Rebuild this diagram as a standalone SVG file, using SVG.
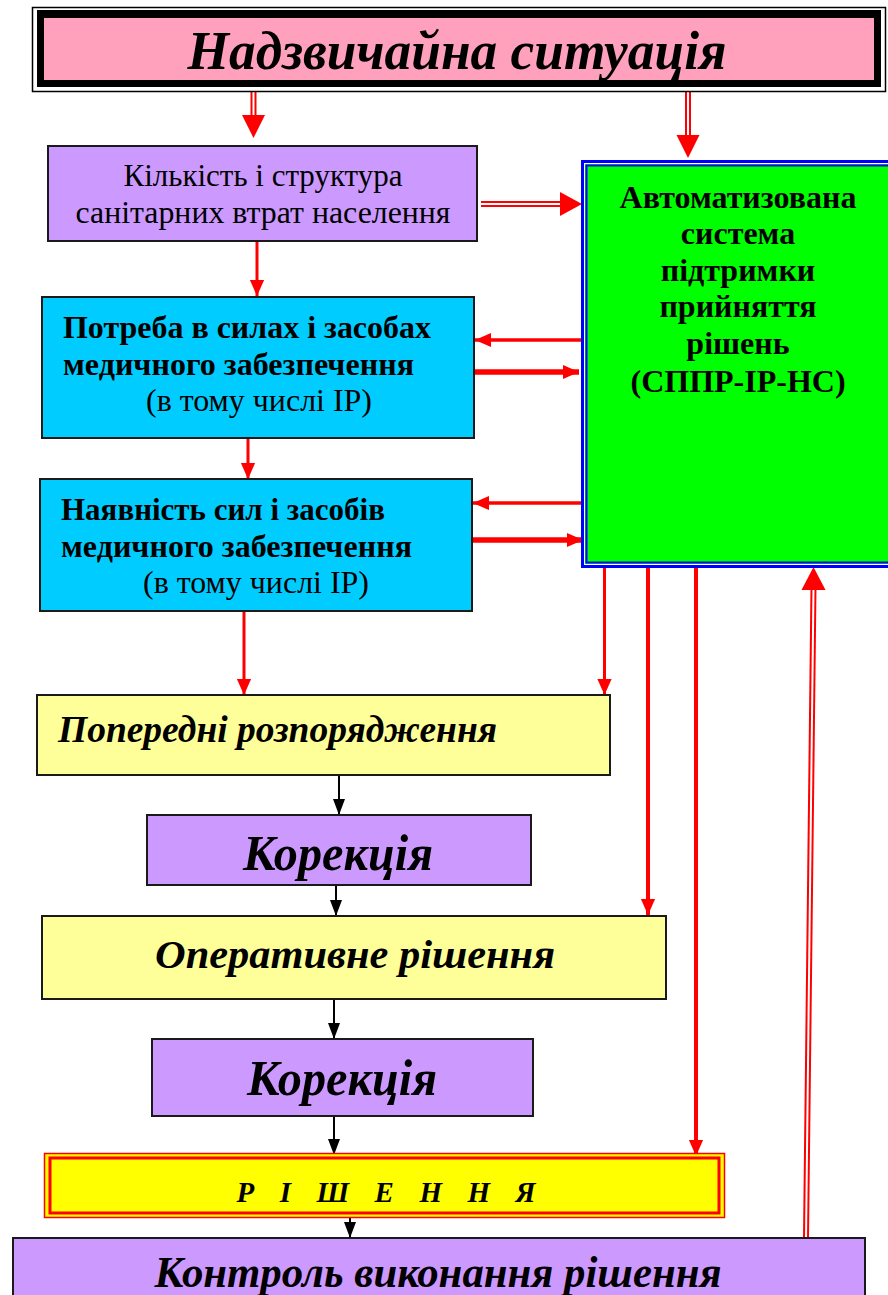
<svg xmlns="http://www.w3.org/2000/svg" width="888" height="1295" viewBox="0 0 888 1295">
<defs>
<style>
text{font-family:"Liberation Serif","Times New Roman",serif;fill:#000}
.box{stroke:#1a1a1a;stroke-width:2}
.lav{fill:#CC99FF}
.cyan{fill:#00CCFF}
.ylw{fill:#FFFF99}
.r{stroke:#FF0000;fill:none}
.k{stroke:#000;fill:none;stroke-width:2}
.bi{font-weight:bold;font-style:italic}
.b{font-weight:bold}
.head{fill:#FF0000}
</style>
<marker id="rh" markerUnits="userSpaceOnUse" markerWidth="16" markerHeight="18" refX="18" refY="8" orient="auto" viewBox="0 0 18 16">
<path d="M0,0 L18,8 L0,16 z" fill="#FF0000"/>
</marker>
<marker id="kh" markerUnits="userSpaceOnUse" markerWidth="16" markerHeight="12" refX="16" refY="6" orient="auto" viewBox="0 0 16 12">
<path d="M0,0 L16,6 L0,12 z" fill="#000"/>
</marker>
</defs>
<rect width="888" height="1295" fill="#fff"/>

<g id="connectors">
<line x1="253.5" y1="91" x2="253.5" y2="117" class="r" stroke-width="6"/>
<line x1="253.5" y1="91" x2="253.5" y2="116" stroke="#fff" stroke-width="2"/>
<polygon class="head" points="242,115 265,115 253.5,138"/>
<line x1="688" y1="91" x2="688" y2="137" class="r" stroke-width="6"/>
<line x1="688" y1="91" x2="688" y2="136" stroke="#fff" stroke-width="2"/>
<polygon class="head" points="676.5,135 699.5,135 688,158"/>
<line x1="481" y1="204" x2="562" y2="204" class="r" stroke-width="6"/>
<line x1="481" y1="204" x2="561" y2="204" stroke="#fff" stroke-width="2"/>
<polygon class="head" points="560,192 560,216 582,204"/>
<line x1="257" y1="241" x2="257" y2="296" class="r" stroke-width="3" marker-end="url(#rh)"/>
<line x1="581" y1="340" x2="475" y2="340" class="r" stroke-width="3.5" marker-end="url(#rh)"/>
<line x1="475" y1="372" x2="579" y2="372" class="r" stroke-width="5.5" marker-end="url(#rh)"/>
<line x1="248" y1="438" x2="248" y2="479" class="r" stroke-width="3" marker-end="url(#rh)"/>
<line x1="581" y1="503" x2="473" y2="503" class="r" stroke-width="3.5" marker-end="url(#rh)"/>
<line x1="473" y1="540" x2="583" y2="540" class="r" stroke-width="5.5" marker-end="url(#rh)"/>
<line x1="244" y1="611" x2="244" y2="695" class="r" stroke-width="3" marker-end="url(#rh)"/>
<line x1="604.5" y1="567" x2="604.5" y2="695" class="r" stroke-width="3" marker-end="url(#rh)"/>
<line x1="648" y1="567" x2="648" y2="915" class="r" stroke-width="4" marker-end="url(#rh)"/>
<line x1="696" y1="567" x2="696" y2="1156" class="r" stroke-width="4" marker-end="url(#rh)"/>
<line x1="806" y1="1238" x2="813.5" y2="586" class="r" stroke-width="6"/>
<line x1="806" y1="1238" x2="813.5" y2="588" stroke="#fff" stroke-width="2"/>
<polygon class="head" points="801.5,590 825.5,590 813.5,567"/>
<line x1="339" y1="775" x2="339" y2="815" class="k" marker-end="url(#kh)"/>
<line x1="336" y1="885" x2="336" y2="916" class="k" marker-end="url(#kh)"/>
<line x1="334" y1="999" x2="334" y2="1039" class="k" marker-end="url(#kh)"/>
<line x1="334" y1="1116" x2="334" y2="1155" class="k" marker-end="url(#kh)"/>
<line x1="350" y1="1211" x2="350" y2="1238" class="k" marker-end="url(#kh)"/>
</g>

<g id="emergency">
<rect x="32.5" y="7.5" width="853" height="84" fill="#fff" stroke="#000" stroke-width="1.5"/>
<rect x="37" y="10" width="844" height="77" fill="#000"/>
<rect x="44" y="18" width="830" height="62" fill="#FFA0BC"/>
<text x="457" y="69" font-size="54" class="bi" text-anchor="middle" textLength="539" lengthAdjust="spacingAndGlyphs">Надзвичайна ситуація</text>
</g>

<g id="losses">
<rect x="48" y="146" width="429" height="95" class="box lav"/>
<text x="263" y="186" font-size="31" text-anchor="middle">Кількість і структура</text>
<text x="263" y="223" font-size="31" text-anchor="middle" textLength="375" lengthAdjust="spacingAndGlyphs">санітарних втрат населення</text>
</g>

<g id="need">
<rect x="42" y="297" width="432" height="141" class="box cyan"/>
<text x="63" y="338" font-size="31" class="b" textLength="368" lengthAdjust="spacingAndGlyphs">Потреба в силах і засобах</text>
<text x="63" y="375" font-size="31" class="b" textLength="351" lengthAdjust="spacingAndGlyphs">медичного забезпечення</text>
<text x="146" y="411" font-size="31" textLength="226" lengthAdjust="spacingAndGlyphs">(в тому числі ІР)</text>
</g>

<g id="available">
<rect x="40" y="479" width="432" height="132" class="box cyan"/>
<text x="61" y="520" font-size="31" class="b">Наявність сил і засобів</text>
<text x="61" y="557" font-size="31" class="b" textLength="351" lengthAdjust="spacingAndGlyphs">медичного забезпечення</text>
<text x="143" y="593" font-size="31" textLength="226" lengthAdjust="spacingAndGlyphs">(в тому числі ІР)</text>
</g>

<g id="asppr">
<rect x="581" y="160" width="320" height="408" fill="#0000FF"/>
<rect x="584" y="163" width="314" height="402" fill="#fff"/>
<rect x="585" y="164" width="312" height="400" fill="#00FF00"/>
<rect x="586.5" y="165.5" width="320" height="397" fill="none" stroke="#0000FF" stroke-width="2"/>
<rect x="589" y="168" width="310" height="392" fill="#00FF00"/>
<g font-size="32" text-anchor="middle">
<text x="738" y="208" class="b">Автоматизована</text>
<text x="738" y="244" class="b">система</text>
<text x="738" y="281" class="b">підтримки</text>
<text x="738" y="317" class="b">прийняття</text>
<text x="738" y="354" class="b">рішень</text>
<text x="738" y="392" class="b">(СППР-ІР-НС)</text>
</g>
</g>

<g id="preliminary">
<rect x="37" y="695" width="573" height="80" class="box ylw"/>
<text x="58" y="742" font-size="37" class="bi" textLength="439" lengthAdjust="spacingAndGlyphs">Попередні розпорядження</text>
</g>

<g id="correction1">
<rect x="147" y="815" width="384" height="70" class="box lav"/>
<text x="338" y="870" font-size="50" class="bi" text-anchor="middle" textLength="190" lengthAdjust="spacingAndGlyphs">Корекція</text>
</g>

<g id="operative">
<rect x="42" y="916" width="624" height="83" class="box ylw"/>
<text x="355" y="968" font-size="41" class="bi" text-anchor="middle" textLength="400" lengthAdjust="spacingAndGlyphs">Оперативне рішення</text>
</g>

<g id="correction2">
<rect x="152" y="1039" width="381" height="77" class="box lav"/>
<text x="342" y="1095" font-size="50" class="bi" text-anchor="middle" textLength="190" lengthAdjust="spacingAndGlyphs">Корекція</text>
</g>

<g id="decision">
<rect x="44.5" y="1153.5" width="680" height="64" fill="#FFFF00" stroke="#FF0000" stroke-width="1.5"/>
<rect x="50" y="1158" width="669" height="55" fill="#FFFF00" stroke="#FF0000" stroke-width="3"/>
<text x="386" y="1202" font-size="29" class="bi" text-anchor="middle" textLength="299" lengthAdjust="spacing">Р І Ш Е Н Н Я</text>
</g>

<g id="control">
<rect x="13" y="1238" width="852" height="62" class="box lav"/>
<text x="438" y="1287" font-size="44" class="bi" text-anchor="middle" textLength="567" lengthAdjust="spacingAndGlyphs">Контроль виконання рішення</text>
</g>
</svg>
